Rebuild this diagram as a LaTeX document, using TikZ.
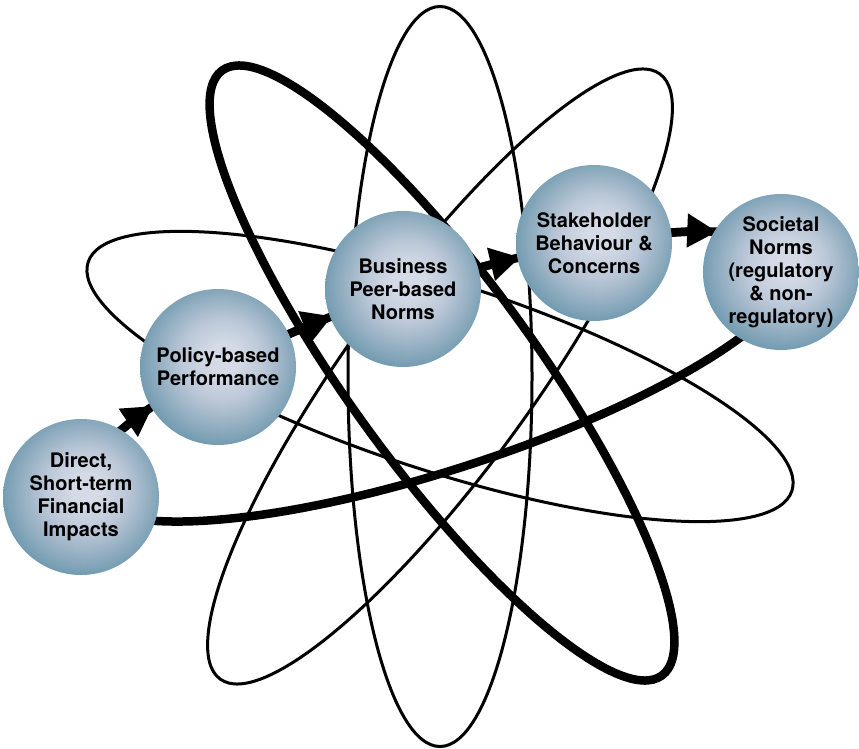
\documentclass[tikz,border=0pt]{standalone}
\usepackage{fontspec}
\setmainfont{TeX Gyre Heros}
\usetikzlibrary{arrows.meta}
\pgfdeclarelayer{bg}
\pgfsetlayers{bg,main}
\definecolor{sphc}{RGB}{212,218,230}
\definecolor{sphb}{RGB}{188,200,216}
\definecolor{sphm}{RGB}{140,170,189}
\definecolor{sphn}{RGB}{88,140,164}
\definecolor{sphe}{RGB}{38,112,142}
\definecolor{sphd}{RGB}{12,92,122}
\pgfdeclareradialshading{sphereshade}{\pgfpoint{2bp}{3bp}}{color(0bp)=(sphc); color(5bp)=(sphc); color(13bp)=(sphb); color(22bp)=(sphm); color(31bp)=(sphn); color(40bp)=(sphe); color(48bp)=(sphd)}
\begin{document}
\begin{tikzpicture}[x=1pt,y=1pt,
  sph/.style={circle, minimum size=156pt, inner sep=0pt, shading=sphereshade, align=center,
    font=\fontsize{20}{23}\selectfont\bfseries},
  orbit/.style={line width=3pt},
  thickorbit/.style={line width=8.5pt},
  flow/.style={line width=8.5pt, -{Triangle[length=30pt,width=32pt]}}]
\useasboundingbox (0,0) rectangle (859,748);
\coordinate (C) at (440,371.5);
\coordinate (Ct) at (442,375);
\node[sph] (direct) at (81,251) {Direct,\\Short-term\\Financial\\Impacts};
\node[sph] (policy) at (218,381) {Policy-based\\Performance};
\node[sph] (business) at (403,459) {Business\\Peer-based\\Norms};
\node[sph] (stake) at (594,505) {Stakeholder\\Behaviour \&\\Concerns};
\node[sph] (societal) at (781,476) {Societal\\Norms\\(regulatory\\\& non-\\regulatory)};
\begin{pgfonlayer}{bg}
\draw[orbit, rotate around={90:(C)}] (C) ellipse [x radius=370pt, y radius=92pt];
\draw[orbit, rotate around={54:(C)}] (C) ellipse [x radius=374pt, y radius=93pt];
\draw[orbit, rotate around={-18:(C)}] (C) ellipse [x radius=370pt, y radius=94pt];
\draw[thickorbit, rotate around={-54:(Ct)}] (Ct) ellipse [x radius=374pt, y radius=93pt];
\draw[thickorbit, rotate around={18:(C)}] (C) ellipse [x radius=372pt, y radius=93pt];
\begin{scope}[shift={(C)}, rotate=18]
\draw[flow] (150.3:372pt and 93pt) arc[start angle=150.3, end angle=139.3, x radius=372pt, y radius=93pt];
\draw[flow] (110.6:372pt and 93pt) arc[start angle=110.6, end angle=103.0, x radius=372pt, y radius=93pt];
\draw[flow] (79.2:372pt and 93pt) arc[start angle=79.2, end angle=72.3, x radius=372pt, y radius=93pt];
\draw[flow] (44.8:372pt and 93pt) arc[start angle=44.8, end angle=34.0, x radius=372pt, y radius=93pt];
\end{scope}
\end{pgfonlayer}
\end{tikzpicture}
\end{document}
